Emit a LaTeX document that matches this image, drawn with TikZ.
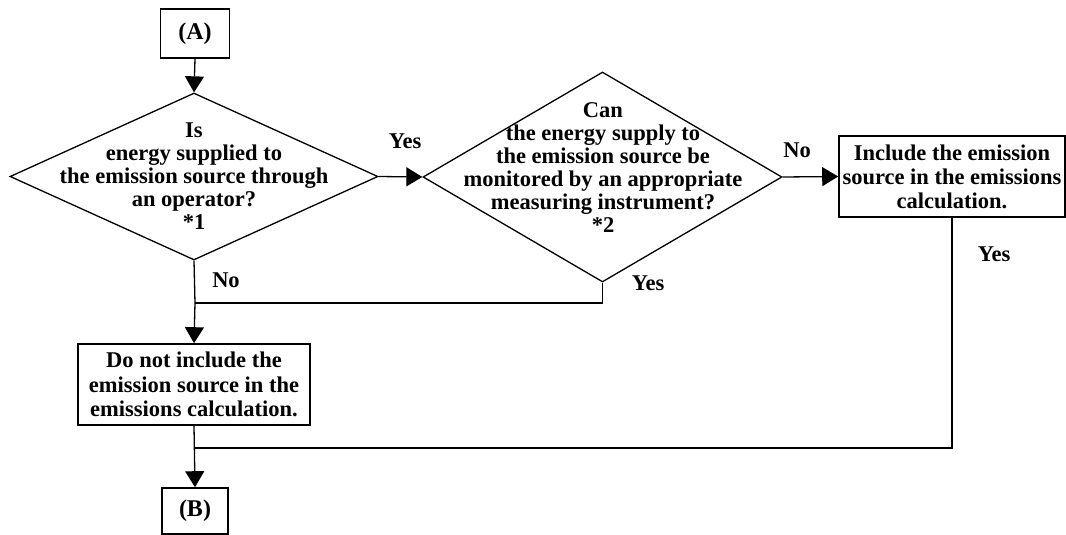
\documentclass[tikz,border=0pt]{standalone}
\usepackage{fontspec}
\setmainfont{Liberation Serif}
\usetikzlibrary{shapes.geometric,arrows.meta}
\begin{document}
\begin{tikzpicture}[x=1pt,y=-1pt,
  every node/.style={font=\bfseries\fontsize{22.5}{23}\selectfont},
  box/.style={draw,line width=1.6pt,rectangle,inner sep=0pt,align=center},
  dia/.style={draw,line width=1.3pt,diamond,inner sep=0pt},
  txt/.style={align=center,inner sep=0pt},
  lbl/.style={inner sep=0pt},
  conn/.style={line width=1.3pt},
  arr/.style={conn,-{Triangle[length=16pt,width=19pt]}}]
\useasboundingbox (0,0) rectangle (1066,535);
% terminals
\node[box,minimum width=69pt,minimum height=49pt,font=\bfseries\fontsize{24}{24}\selectfont] (a) at (195,33.5) {(A)};
\node[box,minimum width=66pt,minimum height=46pt,font=\bfseries\fontsize{24}{24}\selectfont] (b) at (195,511) {(B)};
% decisions
\node[dia,minimum width=368pt,minimum height=167pt] (d1) at (194,176.5) {};
\node[txt] (t1) at (194,176) {Is\\energy supplied to\\the emission source through\\an operator?\\*1};
\node[dia,minimum width=359pt,minimum height=210pt] (d2) at (602.5,177) {};
\node[txt] (t2) at (603,168) {Can\\the energy supply to\\the emission source be\\monitored by an appropriate\\measuring instrument?\\*2};
% process boxes
\node[box,minimum width=226pt,minimum height=81pt,font=\bfseries\fontsize{22.5}{24}\selectfont] (inc) at (952,176.5) {Include the emission\\source in the emissions\\calculation.};
\node[box,minimum width=232pt,minimum height=81pt,font=\bfseries\fontsize{22.5}{24.5}\selectfont] (dn) at (194,384.5) {Do not include the\\emission source in the\\emissions calculation.};
% junctions
\coordinate (j1) at (195,303);
\coordinate (j2) at (195,448);
% connectors
\draw[arr] (a.south) -- (d1.north);
\draw[arr] (d1.east) -- (d2.west);
\draw[arr] (d2.east) -- (inc.west);
\draw[conn] (d1.south) -- (j1);
\draw[conn] (d2.south) |- (j1);
\draw[arr] (j1) -- (dn.north);
\draw[conn] (inc.south) |- (j2);
\draw[arr] (dn.south) -- (b.north);
% labels
\node[lbl] (ly1) at (405,141) {Yes};
\node[lbl] (ln2) at (797,150) {No};
\node[lbl] (ln1) at (226,280) {No};
\node[lbl] (ly2) at (648,283) {Yes};
\node[lbl] (ly3) at (994,254) {Yes};
\end{tikzpicture}
\end{document}
